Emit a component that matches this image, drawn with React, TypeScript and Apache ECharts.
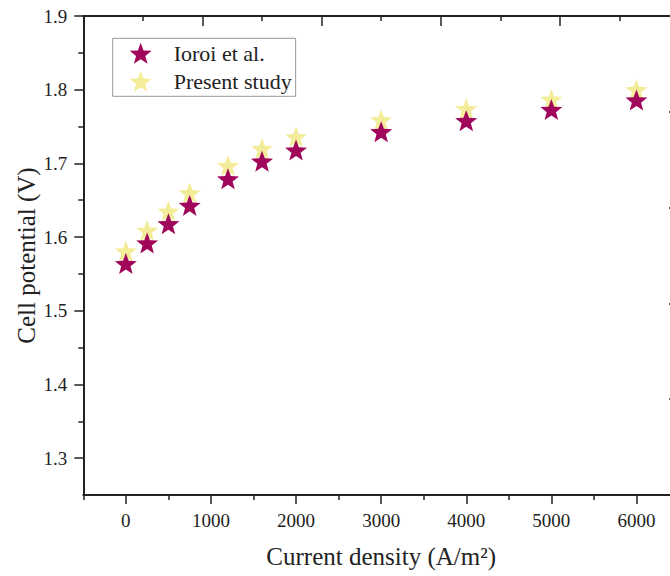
import React, { useEffect, useRef } from "react";
import * as echarts from "echarts";

const currentDensity = [0, 250, 500, 750, 1200, 1600, 2000, 3000, 4000, 5000, 6000];
const ioroiValues = [1.564, 1.592, 1.618, 1.643, 1.679, 1.703, 1.718, 1.743, 1.758, 1.773, 1.786];
const presentValues = [1.581, 1.609, 1.635, 1.66, 1.697, 1.72, 1.736, 1.759, 1.774, 1.787, 1.8];
const xMajorTicks = [0, 1000, 2000, 3000, 4000, 5000, 6000];
const xMinorTicks = [-500, 500, 1500, 2500, 3500, 4500, 5500, 6500];
const yMajorTicks = [1.3, 1.4, 1.5, 1.6, 1.7, 1.8, 1.9];
const yMinorTicks = [1.35, 1.45, 1.55, 1.65, 1.75, 1.85];
const seriesNames = ["Ioroi et al.", "Present study"];

const STAR =
  "path://M0,-1 L0.247,-0.34 L0.951,-0.309 L0.399,0.13 L0.588,0.809 L0,0.42 L-0.588,0.809 L-0.399,0.13 L-0.951,-0.309 L-0.247,-0.34 Z";

const FONT = "'Liberation Serif', 'Times New Roman', serif";
const INK = "#222";
const CHART_W = 700;

export default function App() {
  const ref = useRef<HTMLDivElement>(null);
  useEffect(() => {
    if (!ref.current) return;
    const chart = echarts.init(ref.current, null, { renderer: "svg" });
    const toPairs = (vals: number[]) => currentDensity.map((x, i) => [x, vals[i]]);
    chart.setOption({
      animation: false,
      backgroundColor: "#fff",
      grid: { left: 83.3, top: 16, right: CHART_W - 679, bottom: 81, containLabel: false },
      legend: {
        data: seriesNames,
        orient: "vertical",
        left: 112.7,
        top: 38.3,
        icon: STAR,
        itemWidth: 22,
        itemHeight: 21,
        itemGap: 6,
        padding: [4, 4, 4, 17],
        borderColor: "#999",
        borderWidth: 1,
        textStyle: { fontFamily: FONT, fontSize: 22, color: INK, lineHeight: 22, padding: [0, 0, 0, 17] },
      },
      xAxis: [
        {
          type: "value",
          position: "bottom",
          min: -500,
          max: 6500,
          name: "Current density (A/m²)",
          nameLocation: "middle",
          nameGap: 49,
          nameMoveOverlap: false,
          nameTextStyle: { fontFamily: FONT, fontSize: 25, color: INK },
          axisLine: { show: true, onZero: false, lineStyle: { color: INK, width: 2 } },
          axisTick: { show: true, inside: false, length: 9, customValues: xMajorTicks, lineStyle: { color: INK, width: 1.5 } },
          axisLabel: {
            show: true,
            margin: 16,
            customValues: xMajorTicks,
            formatter: (v: number) => String(v),
            fontFamily: FONT,
            fontSize: 19,
            color: INK,
          },
          splitLine: { show: false },
        },
        {
          type: "value",
          position: "bottom",
          min: -500,
          max: 6500,
          axisLine: { show: false, onZero: false },
          axisTick: { show: true, inside: false, length: 5, customValues: xMinorTicks, lineStyle: { color: INK, width: 1.5 } },
          axisLabel: { show: false },
          splitLine: { show: false },
        },
        {
          type: "value",
          position: "top",
          min: 0,
          max: 5,
          interval: 1,
          axisLine: { show: true, onZero: false, lineStyle: { color: INK, width: 2 } },
          axisTick: { show: true, inside: true, length: 10, lineStyle: { color: INK, width: 1.5 } },
          minorTick: { show: true, splitNumber: 2, length: 5, lineStyle: { color: INK, width: 1.5 } },
          axisLabel: { show: false },
          splitLine: { show: false },
        },
      ],
      yAxis: [
        {
          type: "value",
          position: "left",
          min: 1.25,
          max: 1.9,
          name: "Cell potential (V)",
          nameLocation: "middle",
          nameGap: 44,
          nameMoveOverlap: false,
          nameTextStyle: { fontFamily: FONT, fontSize: 25, color: INK },
          axisLine: { show: true, onZero: false, lineStyle: { color: INK, width: 2 } },
          axisTick: { show: true, inside: false, length: 9, customValues: yMajorTicks, lineStyle: { color: INK, width: 1.5 } },
          axisLabel: {
            show: true,
            margin: 16,
            customValues: yMajorTicks,
            formatter: (v: number) => v.toFixed(1),
            fontFamily: FONT,
            fontSize: 19,
            color: INK,
          },
          splitLine: { show: false },
        },
        {
          type: "value",
          position: "left",
          min: 1.25,
          max: 1.9,
          axisLine: { show: false, onZero: false },
          axisTick: { show: true, inside: false, length: 5, customValues: yMinorTicks, lineStyle: { color: INK, width: 1.5 } },
          axisLabel: { show: false },
          splitLine: { show: false },
        },
        {
          type: "value",
          position: "right",
          min: 0,
          max: 5,
          interval: 1,
          axisLine: { show: true, onZero: false, lineStyle: { color: INK, width: 2 } },
          axisTick: { show: true, inside: true, length: 10, lineStyle: { color: INK, width: 1.5 } },
          minorTick: { show: true, splitNumber: 2, length: 5, lineStyle: { color: INK, width: 1.5 } },
          axisLabel: { show: false },
          splitLine: { show: false },
        },
      ],
      series: [
        {
          name: seriesNames[1],
          type: "scatter",
          xAxisIndex: 0,
          yAxisIndex: 0,
          symbol: STAR,
          symbolSize: [22, 21],
          itemStyle: { color: "#f3ec98", opacity: 1 },
          data: toPairs(presentValues),
          z: 2,
        },
        {
          name: seriesNames[0],
          type: "scatter",
          xAxisIndex: 0,
          yAxisIndex: 0,
          symbol: STAR,
          symbolSize: [22, 21],
          itemStyle: { color: "#a0065a", opacity: 1 },
          data: toPairs(ioroiValues),
          z: 3,
        },
      ],
    });
    return () => chart.dispose();
  }, []);
  return (
    <div style={{ position: "absolute", left: 0, top: 0, width: 670, height: 576, overflow: "hidden" }}>
      <div ref={ref} style={{ width: CHART_W, height: 576 }} />
    </div>
  );
}
